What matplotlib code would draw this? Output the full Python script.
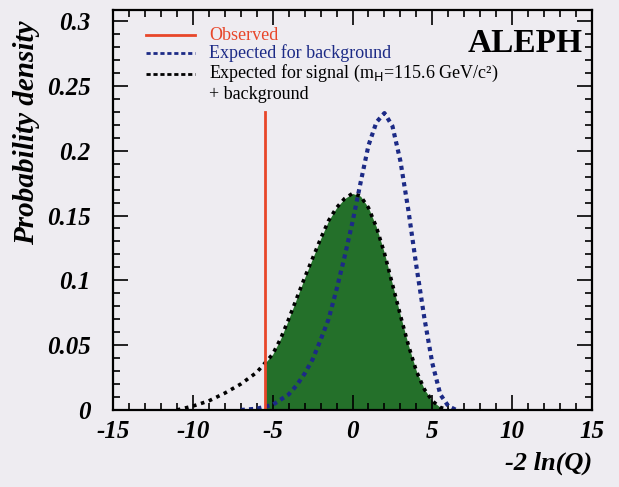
import numpy as np
import matplotlib
matplotlib.use("Agg")
import matplotlib.pyplot as plt
from matplotlib.ticker import MultipleLocator

# -2 ln(Q) values
sb_x = [-11, -10, -9, -8, -7, -6, -5.5, -5, -4.5, -4, -3.5, -3, -2.5, -2, -1.5, -1, -0.5,
        0, 0.5, 1, 1.5, 2, 2.5, 3, 3.5, 4, 4.5, 5, 5.5, 6]
sb_y = [0.0, 0.003, 0.007, 0.013, 0.020, 0.029, 0.036, 0.043, 0.055, 0.070, 0.086, 0.102,
        0.117, 0.132, 0.146, 0.156, 0.163, 0.167, 0.165, 0.156, 0.141, 0.121, 0.097, 0.073,
        0.050, 0.030, 0.016, 0.007, 0.002, 0.0]

b_x = [-7, -6, -5, -4.5, -4, -3.5, -3, -2.5, -2, -1.5, -1, -0.5, 0, 0.5, 1, 1.5, 2, 2.5,
       3, 3.5, 4, 4.5, 5, 5.5, 6, 6.5]
b_y = [0.0, 0.001, 0.004, 0.008, 0.012, 0.019, 0.028, 0.039, 0.054, 0.070, 0.093, 0.118,
       0.145, 0.175, 0.204, 0.222, 0.229, 0.219, 0.192, 0.154, 0.111, 0.071, 0.036, 0.012,
       0.003, 0.0]

observed = -5.5
observed_top = 0.23

bg = "#eeecf1"
green = "#24702a"
red = "#e8462a"
navy = "#1c2a86"

plt.rcParams["font.family"] = ["Liberation Serif", "DejaVu Serif"]

fig = plt.figure(figsize=(6.19, 4.87), dpi=100, facecolor=bg)
ax = fig.add_axes([113 / 619, 1 - 410 / 487, 479 / 619, 400 / 487])
ax.set_facecolor(bg)

sb_x_arr = np.array(sb_x)
sb_y_arr = np.array(sb_y)
ax.fill_between(sb_x_arr, 0, sb_y_arr, where=sb_x_arr >= observed, color=green, lw=0)
ax.plot(sb_x, sb_y, color="black", lw=2.6, ls=(0, (1, 1.3)))
ax.plot(b_x, b_y, color=navy, lw=3.0, ls=(0, (1, 1.0)))
ax.plot([observed, observed], [0, observed_top], color=red, lw=2)

ax.set_xlim(-15, 15)
ax.set_ylim(0, 0.3085)
ax.xaxis.set_major_locator(MultipleLocator(5))
ax.xaxis.set_minor_locator(MultipleLocator(1))
ax.yaxis.set_major_locator(MultipleLocator(0.05))
ax.yaxis.set_minor_locator(MultipleLocator(0.01))
ax.tick_params(which="both", direction="in", top=True, right=True, width=1.2)
ax.tick_params(which="major", length=11)
ax.tick_params(which="minor", length=5)
for s in ax.spines.values():
    s.set_linewidth(1.6)

ax.set_xticklabels([f"{int(t)}" for t in ax.get_xticks()])
ax.set_yticks([0, 0.05, 0.1, 0.15, 0.2, 0.25, 0.3])
ax.set_yticklabels(["0", "0.05", "0.1", "0.15", "0.2", "0.25", "0.3"])
for lab in ax.get_xticklabels() + ax.get_yticklabels():
    lab.set_fontsize(18)
    lab.set_fontweight("bold")
    lab.set_fontstyle("italic")
ax.tick_params(axis="x", pad=7)
ax.tick_params(axis="y", pad=16)

ax.set_ylabel("Probability density", fontsize=21, fontstyle="italic", fontweight="bold",
              loc="top")
ax.yaxis.set_label_coords(-0.152, 0.975)
ax.set_xlabel("-2 ln(Q)", fontsize=19, fontstyle="italic", fontweight="bold", loc="right")
ax.xaxis.set_label_coords(1.0, -0.105)

ax.text(0.98, 0.955, "ALEPH", transform=ax.transAxes, ha="right", va="top",
        fontsize=24, fontweight="bold")

# legend
legend_rows = [
    ("Observed", red, "-", 0.937),
    ("Expected for background", navy, (0, (1.5, 1)), 0.893),
    ("Expected for signal (m$_{\\rm H}$=115.6 GeV/c²)", "black", (0, (1.5, 1)), 0.841),
]
for label, col, ls, yy in legend_rows:
    ax.plot([0.068, 0.172], [yy, yy], transform=ax.transAxes, color=col, lw=2, ls=ls)
    ax.text(0.2, yy, label, transform=ax.transAxes, color=col, fontsize=13, va="center")
ax.text(0.2, 0.789, "+ background", transform=ax.transAxes, color="black", fontsize=13,
        va="center")

fig.savefig("out.png", dpi=100, facecolor=bg)
